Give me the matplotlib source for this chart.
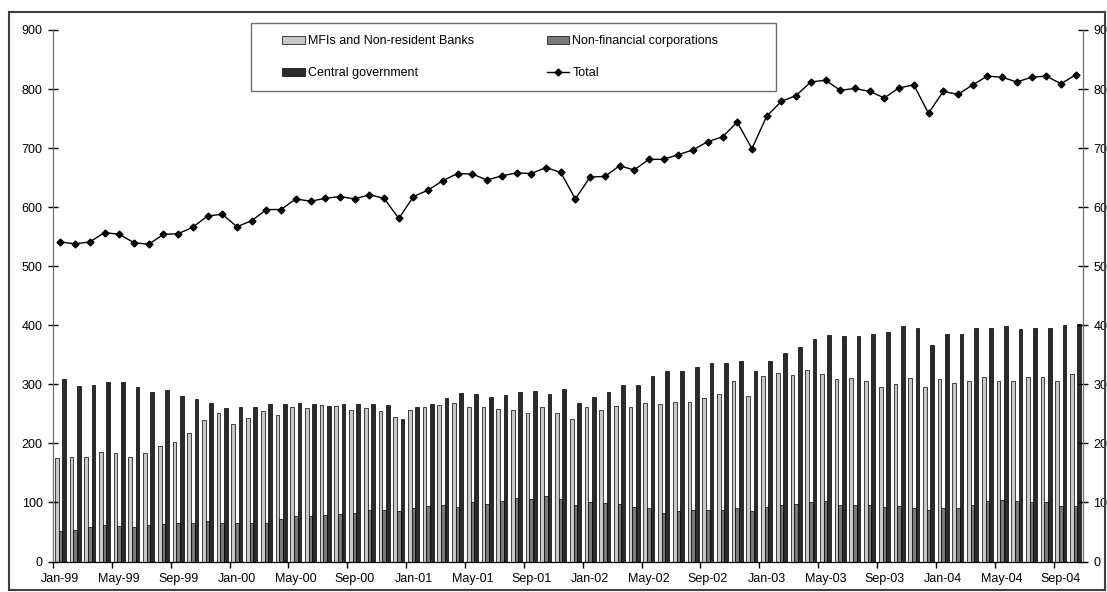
import numpy as np
import pandas as pd
import matplotlib
matplotlib.use('Agg')
import matplotlib.pyplot as plt
from matplotlib.patches import Rectangle

plt.rcParams['font.family'] = ['Liberation Sans', 'DejaVu Sans']
plt.rcParams['font.size'] = 9

# Monthly categories, Jan-99 .. Oct-04
months = pd.date_range('1999-01-01', periods=70, freq='MS').strftime('%b-%y').tolist()

mfi = [175, 177, 177, 185, 183, 177, 183, 195, 203, 217, 240, 252,
       232, 243, 254, 248, 262, 260, 265, 264, 257, 260, 254, 244,
       257, 261, 265, 269, 261, 262, 258, 256, 252, 262, 251, 242,
       262, 257, 264, 261, 268, 266, 270, 270, 277, 284, 305, 281,
       314, 320, 315, 324, 318, 309, 310, 305, 295, 300, 310, 295,
       309, 303, 305, 312, 306, 305, 312, 313, 305, 317]
nfc = [52, 54, 58, 61, 60, 58, 61, 63, 65, 66, 68, 66,
       66, 66, 66, 72, 77, 77, 78, 80, 82, 87, 87, 86,
       90, 94, 95, 93, 100, 98, 102, 108, 106, 111, 106, 95,
       101, 99, 97, 93, 90, 82, 86, 87, 88, 88, 90, 86,
       92, 96, 98, 100, 102, 96, 96, 96, 93, 94, 91, 87,
       91, 91, 95, 102, 104, 102, 101, 100, 94, 94]
cgov = [309, 297, 299, 304, 304, 296, 287, 290, 280, 276, 269, 260,
        261, 261, 267, 267, 269, 267, 264, 267, 267, 267, 265, 241,
        262, 266, 277, 285, 284, 278, 282, 287, 288, 284, 292, 268,
        279, 287, 299, 299, 314, 323, 323, 329, 336, 336, 339, 322,
        339, 353, 363, 377, 384, 381, 382, 385, 388, 398, 396, 366,
        385, 385, 396, 396, 399, 394, 396, 396, 401, 403]
total = [541, 538, 541, 557, 554, 540, 537, 554, 555, 566, 585, 588,
         567, 577, 596, 596, 614, 610, 615, 618, 614, 621, 615, 581,
         618, 629, 645, 657, 656, 646, 653, 658, 657, 667, 659, 614,
         651, 652, 670, 663, 681, 681, 689, 697, 711, 719, 744, 699,
         754, 779, 789, 812, 815, 798, 801, 796, 785, 802, 807, 759,
         796, 791, 807, 822, 820, 812, 820, 822, 809, 824]

W, H = 1107, 592
fig = plt.figure(figsize=(W / 100, H / 100), dpi=100)
ax = fig.add_axes([53 / W, 1 - 561.5 / H, (1083 - 53) / W, (561.5 - 30) / H])

x = np.arange(len(months))
bw = 0.25
ax.bar(x - bw, mfi, bw, color='#c8c8c8', edgecolor='black', linewidth=0.5,
       label='MFIs and Non-resident Banks')
ax.bar(x, nfc, bw, color='#7a7a7a', edgecolor='black', linewidth=0.5,
       label='Non-financial corporations')
ax.bar(x + bw, cgov, bw, color='#2b2b2b', edgecolor='black', linewidth=0.5,
       label='Central government')

ax.set_xlim(-0.5, len(months) - 0.5)
ax.set_ylim(0, 900)
ax.set_yticks(range(0, 901, 100))

ax2 = ax.twinx()
ax2.plot(x, total, color='black', linewidth=1, marker='D', markersize=3.5,
         label='Total')
ax2.set_ylim(0, 900)
ax2.set_yticks(range(0, 901, 100))

# x axis: tick marks between categories, labels at category centres
ax.set_xticks(np.arange(-0.5, len(months), 4))
ax.set_xticklabels([])
ax.set_xticks(x[::4], minor=True)
ax.set_xticklabels(months[::4], minor=True)
ax.tick_params(axis='x', which='major', direction='out', length=4, width=1)
ax.tick_params(axis='x', which='minor', length=0, pad=8)
ax.tick_params(axis='y', direction='inout', length=7, width=1, pad=4)
ax2.tick_params(axis='y', direction='inout', length=7, width=1, pad=4)

for a in (ax, ax2):
    a.spines['top'].set_visible(False)
    a.spines['left'].set_color('#6e6e6e')
    a.spines['right'].set_color('#6e6e6e')
    a.spines['bottom'].set_color('black')

h1, l1 = ax.get_legend_handles_labels()
h2, l2 = ax2.get_legend_handles_labels()
handles = [h1[0], h1[2], h1[1], h2[0]]
labels = [l1[0], l1[2], l1[1], l2[0]]
fig.legend(handles, labels, ncol=2, loc='upper left', frameon=False,
           bbox_to_anchor=(282 / W, 1 - 35 / H), borderpad=0, borderaxespad=0,
           handlelength=1.8, handleheight=0.6, handletextpad=0.25,
           columnspacing=5.85, labelspacing=1.62)
fig.patches.append(Rectangle((251 / W, 1 - 91 / H), (776 - 251) / W, (91 - 23) / H,
                             transform=fig.transFigure, fill=False,
                             edgecolor='#6e6e6e', linewidth=1))
fig.patches.append(Rectangle((9 / W, 1 - 590 / H), (1105 - 9) / W, (590 - 12) / H,
                             transform=fig.transFigure, fill=False,
                             edgecolor='#404040', linewidth=1.5))

fig.savefig('out.png', dpi=100)
